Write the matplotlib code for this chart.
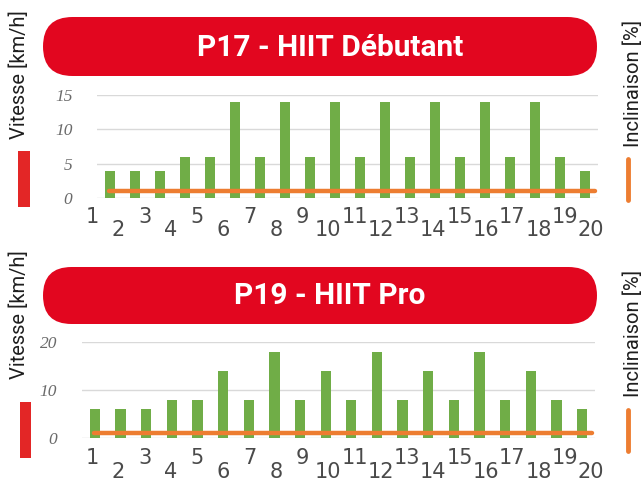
import numpy as np
import matplotlib.pyplot as plt
from matplotlib.patches import FancyBboxPatch, Rectangle
from matplotlib.lines import Line2D

W, H = 643, 479
DPI = 100

segments = [str(i) for i in range(1, 21)]

p17_title = "P17 - HIIT Débutant"
p17_speed = [4, 4, 4, 6, 6, 14, 6, 14, 6, 14, 6, 14, 6, 14, 6, 14, 6, 14, 6, 4]
p17_incline = [1, 1, 1, 1, 1, 1, 1, 1, 1, 1, 1, 1, 1, 1, 1, 1, 1, 1, 1, 1]
p17_yticks = [0, 5, 10, 15]

p19_title = "P19 - HIIT Pro"
p19_speed = [6, 6, 6, 8, 8, 14, 8, 18, 8, 14, 8, 18, 8, 14, 8, 18, 8, 14, 8, 6]
p19_incline = [1, 1, 1, 1, 1, 1, 1, 1, 1, 1, 1, 1, 1, 1, 1, 1, 1, 1, 1, 1]
p19_yticks = [0, 10, 20]

RED = "#e2061f"
GREEN = "#70ad47"
ORANGE = "#ed7d31"
GRID = "#d9d9d9"


def fx(x):
    return x / W


def fy(y):
    return 1 - y / H


fig = plt.figure(figsize=(W / DPI, H / DPI), dpi=DPI)


def panel(title, speed, incline, yticks, lay):
    # red title banner
    x0, y0, x1, y1 = lay["pill"]
    h = (y1 - y0) / DPI
    pill = FancyBboxPatch((x0 / DPI, (H - y1) / DPI), (x1 - x0) / DPI, h,
                          boxstyle=f"round,pad=0,rounding_size={h / 2}",
                          transform=fig.dpi_scale_trans, fc=RED, ec="none")
    fig.patches.append(pill)
    fig.text(fx(lay["title_x"]), fy((y0 + y1) / 2 + 1), title, color="white",
             fontsize=21.5, fontweight="bold", family="Roboto",
             ha="center", va="center")

    # chart area
    l, t, r, b = lay["axes"]
    ax = fig.add_axes([fx(l), fy(b), fx(r - l), (b - t) / H])
    x = np.arange(len(speed))
    ax.bar(x, speed, width=0.4, color=GREEN, zorder=2)
    ax.set_xlim(-0.5, len(speed) - 0.5)
    ax.set_ylim(0, yticks[-1])
    ax.set_yticks(yticks)
    ax.set_yticklabels([str(v) for v in yticks], fontsize=12.5,
                       family="Liberation Serif", style="italic", color="#6a6a6a")
    ax.tick_params(axis="y", length=0, pad=18)
    ax.set_xticks([])
    ax.grid(axis="y", color=GRID, linewidth=1, zorder=0)
    for s in ax.spines.values():
        s.set_visible(False)
    ax.patch.set_alpha(0)

    ax2 = ax.twinx()
    ax2.set_ylim(0, yticks[-1])
    ax2.plot(np.linspace(-0.05, len(speed) - 0.6, len(incline)), incline,
             color=ORANGE, linewidth=3.2, solid_capstyle="round", zorder=3,
             clip_on=False)
    ax2.set_yticks([])
    for s in ax2.spines.values():
        s.set_visible(False)

    # staggered segment numbers
    for k, lab in enumerate(segments):
        yy = lay["xlab"][k % 2]
        fig.text(fx(92 + k * 26.26), fy(yy), lab, fontsize=15,
                 family="Liberation Sans Narrow", color="#4a4a4a",
                 ha="center", va="center")

    # axis titles with legend keys
    fig.text(fx(19), fy(lay["v_label"]), "Vitesse [km/h]", rotation=90,
             fontsize=14.5, family="Roboto", color="#1e1e1e",
             ha="center", va="center")
    rx0, ry0, rx1, ry1 = lay["red_key"]
    fig.patches.append(Rectangle((fx(rx0), fy(ry1)), fx(rx1 - rx0), (ry1 - ry0) / H,
                                 transform=fig.transFigure, fc="#e32626", ec="none"))
    fig.text(fx(633), fy(lay["i_label"]), "Inclinaison [%]", rotation=90,
             fontsize=14.5, family="Roboto", color="#1e1e1e",
             ha="center", va="center")
    oy0, oy1 = lay["orange_key"]
    fig.lines.append(Line2D([fx(627.5), fx(627.5)], [fy(oy0 + 2), fy(oy1 - 2)],
                            transform=fig.transFigure, color=ORANGE,
                            linewidth=3.5, solid_capstyle="round"))


panel(p17_title, p17_speed, p17_incline, p17_yticks, {
    "pill": (43, 17, 597, 76), "title_x": 330,
    "axes": (97.5, 95, 597.5, 198),
    "xlab": (217, 230),
    "v_label": 75, "red_key": (18, 151, 30, 207),
    "i_label": 83, "orange_key": (157, 202),
})

panel(p19_title, p19_speed, p19_incline, p19_yticks, {
    "pill": (43, 267, 597, 324), "title_x": 330,
    "axes": (82, 342, 595, 438),
    "xlab": (458, 472),
    "v_label": 315, "red_key": (20, 402, 31, 458),
    "i_label": 333, "orange_key": (408, 453),
})

fig.savefig("out.png", dpi=DPI)
